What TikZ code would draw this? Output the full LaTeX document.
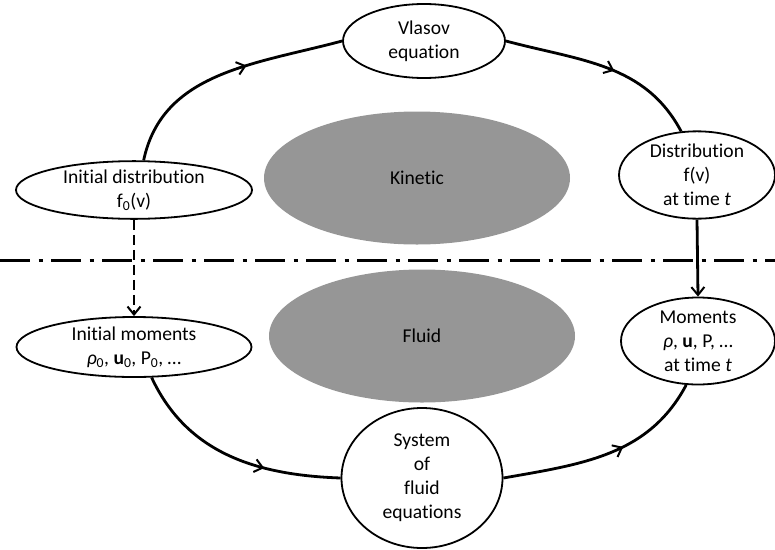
\documentclass[tikz,border=0pt]{standalone}
\usepackage{fontspec}
\setmainfont{Carlito}[Ligatures=NoCommon]
\usetikzlibrary{arrows.meta,decorations.markings,shapes.geometric}
\begin{document}
\begin{tikzpicture}[x=1pt,y=-1pt,
  >={Straight Barb[length=8pt,width=13pt,line width=2pt]},
  bub/.style={draw,ellipse,line width=1.8pt,fill=white,inner sep=0pt,align=center,font=\fontsize{19.6}{24}\selectfont},
  blob/.style={ellipse,fill=blobgray,inner sep=0pt,font=\fontsize{19.6}{24}\selectfont},
  conn/.style={line width=2.8pt,postaction={decorate},decoration={markings,mark=at position #1 with {\arrow{>}}}},
  conn/.default=0.5]
\definecolor{blobgray}{RGB}{150,150,150}
\useasboundingbox (0,0) rectangle (775,549);
\node[blob,minimum width=306pt,minimum height=133pt] (kin) at (417,178) {Kinetic};
\node[blob,minimum width=306pt,minimum height=133pt] (flu) at (422,336) {Fluid};
\coordinate (L) at (0,260);
\coordinate (R) at (775,260);
\draw[line width=3pt,dash pattern=on 30pt off 8.5pt on 4pt off 8.5pt] (L) -- (R);
\node[bub,minimum width=162pt,minimum height=74pt] (vla) at (424,41) {Vlasov\\equation};
\node[bub,minimum width=236pt,minimum height=56pt] (idist) at (134,190) {Initial distribution\\f\textsubscript{0}(v)};
\node[bub,minimum width=156pt,minimum height=84pt] (dist) at (697,175) {Distribution\\f(v)\\at time \textit{t}};
\node[bub,minimum width=235pt,minimum height=60pt] (imom) at (134,347) {Initial moments\\\textit{ρ}\textsubscript{0}, \textbf{u}\textsubscript{0}, P\textsubscript{0}, …};
\node[bub,minimum width=154pt,minimum height=87pt] (mom) at (698,341) {Moments\\\textit{ρ}, \textbf{u}, P, …\\at time \textit{t}};
\node[bub,minimum width=161pt,minimum height=140pt] (sys) at (422,478) {System\\of\\fluid\\equations};
\draw[conn=0.6] (idist.72) to[out=78,in=195] (vla.west);
\draw[conn=0.55] (vla.east) to[out=-15,in=118] (dist.110);
\draw[line width=2.8pt,->] (dist.south) -- (mom.north);
\draw[line width=2.8pt,dash pattern=on 10pt off 5pt,->] (idist.south) -- (imom.north);
\draw[conn=0.66] (imom.-60) to[out=-65,in=178] (sys.west);
\draw[conn=0.58] (sys.east) to[out=10,in=-118] (mom.-105);
\end{tikzpicture}
\end{document}
